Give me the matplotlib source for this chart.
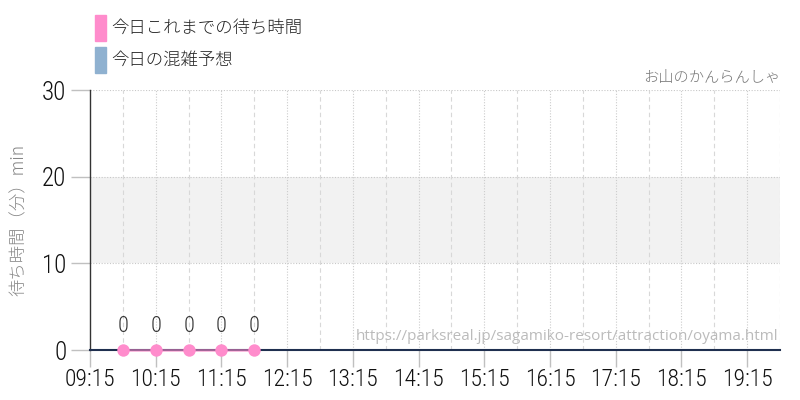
import matplotlib
matplotlib.use("Agg")
import matplotlib.pyplot as plt
from matplotlib import font_manager

# data
times = ["09:45", "10:15", "10:45", "11:15", "11:45"]
waits = [0, 0, 0, 0, 0]
tick_labels = ["09:15", "10:15", "11:15", "12:15", "13:15", "14:15", "15:15",
               "16:15", "17:15", "18:15", "19:15"]
band = (10, 20)
y_ticks = [0, 10, 20, 30]
x_start, x_end = "09:15", "19:45"

PINK = "#ff8ccc"
BLUE = "#8fb1d0"
JP = ["Noto Sans CJK JP", "DejaVu Sans"]


# condensed font for the numbers, if one is installed (light weight preferred)
def pick_narrow():
    cands = []
    for f in font_manager.fontManager.ttflist:
        nm = f.name + " " + f.fname
        if f.style != "normal":
            continue
        if "Bold" in f.fname or "Oblique" in f.fname or "Italic" in f.fname:
            continue
        if ("Condensed" in nm or "Narrow" in nm or
                str(f.stretch) in ("condensed", "semi-condensed", "extra-condensed")):
            score = 0
            if "Roboto" in nm:
                score = 30
            elif "Narrow" in nm:
                score = 20
            elif "DejaVu" in nm and "Sans" in nm and "Mono" not in nm:
                score = 10
            if "Light" in f.fname or f.weight in (300, "light"):
                score += 5
            if "Thin" in f.fname or "Black" in f.fname or "Medium" in f.fname:
                score -= 8
            cands.append((score, f.fname))
    if cands:
        cands.sort(reverse=True)
        return font_manager.FontProperties(fname=cands[0][1])
    return font_manager.FontProperties(family="Roboto")


NUMFP = pick_narrow()


def num(size):
    fp = NUMFP.copy()
    fp.set_size(size)
    return fp


def h(s):
    hh, mm = s.split(":")
    return int(hh) + int(mm) / 60


fig = plt.figure(figsize=(8, 4), dpi=100)
ax = fig.add_axes([0.1125, 0.125, 0.8625, 0.65])

x0, x1 = h(x_start), h(x_end)
ax.set_xlim(x0, x1)
ax.set_ylim(0, 30)

ax.axhspan(band[0], band[1], color="#f2f2f2", zorder=0, lw=0)

# grid
for yv in y_ticks[1:]:
    ax.axhline(yv, color="#c8c8c8", lw=0.8, ls=(0, (1, 1.5)), zorder=1)
tx = [h(t) for t in tick_labels]
for xv in tx[1:]:
    ax.axvline(xv, color="#cccccc", lw=0.8, ls=(0, (1, 1.5)), zorder=1)
for xv in [t + 0.5 for t in tx]:
    ax.axvline(xv, color="#d8d8d8", lw=0.8, ls=(0, (4, 3)), zorder=1)

xs = [h(t) for t in times]
ax.plot([x0, x1], [0, 0], color="#1f2f4f", lw=1.5, zorder=3, clip_on=False)
ax.plot(xs, waits, color=PINK, lw=2, alpha=0.6, zorder=4, clip_on=False)
ax.scatter(xs, waits, s=80, color=PINK, zorder=5, clip_on=False, lw=0)
for x, v in zip(xs, waits):
    ax.text(x, v + 1.5, str(v), ha="center", va="bottom",
            fontproperties=num(16), color="#333333")

ax.set_xticks(tx)
ax.set_xticklabels(tick_labels, fontproperties=num(17), color="#111111")
ax.set_yticks(y_ticks)
ax.set_yticklabels([str(v) for v in y_ticks], fontproperties=num(18),
                   color="#111111")
ax.tick_params(axis="x", length=12, color="#c0c0c0", width=1, pad=1)
ax.tick_params(axis="y", length=14, color="#c0c0c0", width=1, pad=3)

for s in ["top", "right", "bottom"]:
    ax.spines[s].set_visible(False)
ax.spines["left"].set_color("#333333")
ax.spines["left"].set_linewidth(1)

ax.set_ylabel("待ち時間（分）min", family=JP, fontsize=12.5, color="#888888",
              labelpad=10, fontweight="light")

# texts
fig.text(0.975, 0.805, "お山のかんらんしゃ", ha="right", va="center",
         family=JP, fontsize=11, color="#777777", fontweight="light")
ax.text(0.997, 0.05, "https://parksreal.jp/sagamiko-resort/attraction/oyama.html",
        transform=ax.transAxes, ha="right", va="center", fontsize=11,
        family=["Open Sans", "DejaVu Sans"], color="#bbbbbb", zorder=2)

# legend
for i, (lab, c) in enumerate([("今日これまでの待ち時間", PINK),
                              ("今日の混雑予想", BLUE)]):
    yc = 1 - (28 + 32 * i) / 400
    fig.patches.append(plt.Rectangle((95 / 800, yc - 13 / 400), 11 / 800, 26 / 400,
                                     transform=fig.transFigure, color=c))
    fig.text(111 / 800, yc, lab, ha="left", va="center", family=JP,
             fontsize=12.5, color="#222222", fontweight="light")

fig.savefig("out.png", dpi=100)
